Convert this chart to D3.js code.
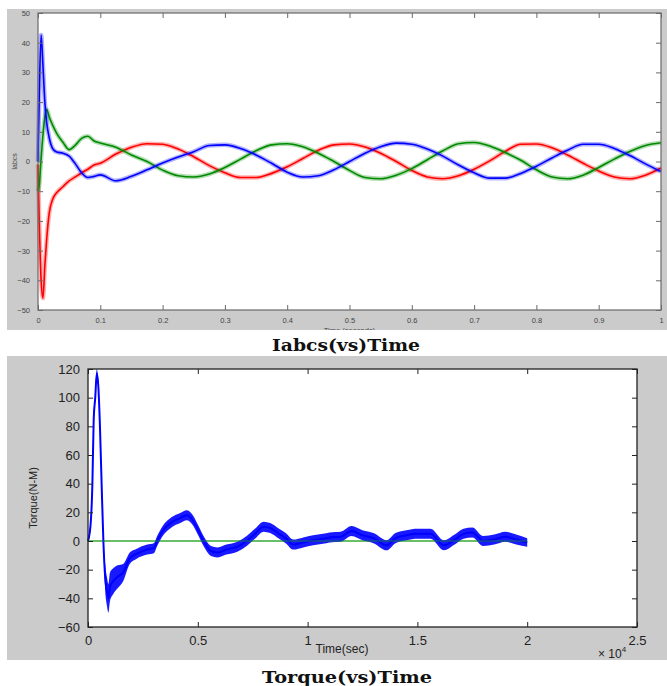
<!DOCTYPE html>
<html><head><meta charset="utf-8">
<script src="https://cdn.jsdelivr.net/npm/d3@7/dist/d3.min.js"></script>
<style>body{margin:0;background:#fff}svg{display:block}</style>
</head><body><svg id="c" width="667" height="686"></svg>
<script>
// ---------- Top chart data: Iabcs vs time (s) ----------
const tTop = [0,0.002,0.005,0.008,0.011,0.014,0.018,0.024,0.03,0.04,0.05,0.06,0.07,0.08,0.09,
  0.1,0.125,0.15,0.175,0.2,0.225,0.25,0.275,0.3,0.325,0.35,0.375,0.4,0.425,0.45,0.475,0.5,0.525,0.55,0.575,
  0.6,0.625,0.65,0.675,0.7,0.725,0.75,0.775,0.8,0.825,0.85,0.875,0.9,0.925,0.95,0.975,1.0];
const ia = [-1,-20,-40,-46,-35,-26,-17.4,-12.5,-10.5,-8.5,-6.5,-5.2,-3.8,-2.6,-1.2,
  -0.6,2.5,4.8,6.0,5.8,4.2,1.6,-1.4,-3.8,-5.4,-5.4,-4.0,-1.8,1.0,3.8,5.6,5.9,4.9,2.8,0.0,
  -3.0,-5.2,-5.8,-4.8,-2.6,0.2,3.4,5.8,5.9,4.6,2.2,-0.6,-3.2,-5.2,-5.8,-4.6,-2.2];
const ib = [-10,-8,1,9,15,17.5,15,12,9.5,6.5,4.0,5.5,7.8,8.5,6.9,
  6.2,4.8,2.2,0.0,-2.9,-4.8,-5.2,-4.2,-2.0,0.8,3.6,5.6,6.0,5.0,2.8,0.0,-3.0,-5.4,-5.8,-4.6,
  -2.4,0.6,3.6,6.0,6.4,5.2,3.0,0.4,-2.8,-5.2,-5.8,-4.6,-2.0,0.8,3.4,5.4,6.3];
const ic = [0,22,42.6,32,20,13,8,4.2,3.2,2.8,1.8,-0.8,-3.8,-5.4,-5.0,
  -4.5,-6.5,-5.0,-2.8,-0.5,1.5,3.3,5.4,5.6,4.4,2.2,-0.6,-3.6,-5.2,-4.8,-2.8,0.0,2.8,5.0,6.2,
  5.8,4.2,1.8,-1.2,-3.8,-5.6,-5.6,-4.0,-1.6,1.2,3.8,5.8,5.8,4.4,2.0,-0.8,-3.4];
const topXTicks = [0,0.1,0.2,0.3,0.4,0.5,0.6,0.7,0.8,0.9,1];
const topYTicks = [-50,-40,-30,-20,-10,0,10,20,30,40,50];

// ---------- Bottom chart data: Torque vs samples ----------
const tqX = [0,120,200,260,330,400,470,540,620,700,780,860,930,1000,1150,1350,1600,1900,2200,2700,3000,3150,
  3400,3800,4200,4500,4750,5000,5300,5600,5900,6300,6800,7227,7600,8000,8300,8700,9000,9350,9800,10250,
  10700,11000,11500,12000,12500,13000,13600,14000,14500,15000,15600,16200,16700,17100,17500,18000,18500,19000,19500,20000];
const tqV = [0,12,40,85,100,117,108,82,40,0,-25,-35,-40,-32,-28,-25,-22,-12,-9,-6,-5,0,
  7,13,16,18,15,8,-1,-7,-8,-6,-4,0,5,10,9,5,2,-2.5,-1,0.5,
  1.5,2.5,3,7,4,2,-3,2,4,5,5,-3,1,5,6,0,1,3,1,-1];
const tqNoise = [1,3,3,3,3,3,3,3,3,3,9,10,10,10,9,8,6,4,3.5,3.5,3.5,3.5,
  3.5,3.5,3.5,3.5,3.5,3.5,3.5,3.5,3.5,3.5,3.5,3.5,3.5,3.5,3.5,3.5,3.5,3.5,3.5,3.5,
  3.5,3.5,3.5,3.5,3.5,3.5,3.5,3.5,3.5,3.5,3.5,3.5,3.5,3.5,3.5,3.5,3.5,3.5,3.5,3];
const botXTicks = [0,5000,10000,15000,20000,25000];
const botXLabels = ["0","0.5","1","1.5","2","2.5"];
const botYTicks = [-60,-40,-20,0,20,40,60,80,100,120];

const svg = d3.select("#c");

// ================= TOP =================
const T = {px0:7, py0:9, px1:667, py1:330, L:38, R:661, Tp:13, B:310};
svg.append("defs").append("clipPath").attr("id","topclip")
  .append("rect").attr("x",T.px0).attr("y",T.py0).attr("width",T.px1-T.px0).attr("height",T.py1-T.py0);
const gT = svg.append("g").attr("clip-path","url(#topclip)");
gT.append("rect").attr("x",T.px0).attr("y",T.py0).attr("width",T.px1-T.px0).attr("height",T.py1-T.py0).attr("fill","#cbcbcb");
gT.append("rect").attr("x",T.L).attr("y",T.Tp).attr("width",T.R-T.L).attr("height",T.B-T.Tp).attr("fill","#fff");
const xT = d3.scaleLinear().domain([0,1]).range([T.L,T.R]);
const yT = d3.scaleLinear().domain([-50,50]).range([T.B,T.Tp]);

const lineT = d3.line().x((d,i)=>xT(tTop[i])).y(d=>yT(d)).curve(d3.curveMonotoneX);
const seriesT = [[ia,"#ff0000"],[ib,"#008a00"],[ic,"#0000ff"]];
seriesT.forEach(([arr,col])=>{
  gT.append("path").attr("d",lineT(arr)).attr("fill","none").attr("stroke",col).attr("stroke-width",4.5).attr("stroke-opacity",0.3).attr("stroke-linejoin","round");
  gT.append("path").attr("d",lineT(arr)).attr("fill","none").attr("stroke",col).attr("stroke-width",1.6).attr("stroke-linejoin","round");
});

const axCol = "#6a6a6a";
const axT = gT.append("g").attr("font-family","Liberation Sans, Arial, sans-serif").attr("font-size",7.5).attr("fill","#444");
gT.append("rect").attr("x",T.L).attr("y",T.Tp).attr("width",T.R-T.L).attr("height",T.B-T.Tp).attr("fill","none").attr("stroke",axCol).attr("stroke-width",1.2);
const gxb = gT.append("g").attr("transform",`translate(0,${T.B})`).call(d3.axisBottom(xT).tickValues(topXTicks).tickSize(-5).tickPadding(8).tickFormat(d3.format("~g")));
const gxt = gT.append("g").attr("transform",`translate(0,${T.Tp})`).call(d3.axisTop(xT).tickValues(topXTicks).tickSize(-5).tickFormat(""));
const gyl = gT.append("g").attr("transform",`translate(${T.L},0)`).call(d3.axisLeft(yT).tickValues(topYTicks).tickSize(-5).tickPadding(8));
const gyr = gT.append("g").attr("transform",`translate(${T.R},0)`).call(d3.axisRight(yT).tickValues(topYTicks).tickSize(-5).tickFormat(""));
[gxb,gxt,gyl,gyr].forEach(g=>{
  g.select(".domain").remove();
  g.selectAll("line").attr("stroke",axCol);
  g.selectAll("text").attr("font-family","Liberation Sans, Arial, sans-serif").attr("font-size",7.5).attr("fill","#444");
});
gT.append("text").attr("transform",`translate(17,${(T.Tp+T.B)/2}) rotate(-90)`).attr("text-anchor","middle")
  .attr("font-family","Liberation Sans, Arial, sans-serif").attr("font-size",7).attr("fill","#444").text("Iabcs");
gT.append("text").attr("x",(T.L+T.R)/2).attr("y",333).attr("text-anchor","middle")
  .attr("font-family","Liberation Sans, Arial, sans-serif").attr("font-size",7.5).attr("fill","#444").text("Time (seconds)");

svg.append("text").attr("x",346).attr("y",351).attr("text-anchor","middle")
  .attr("font-family","DejaVu Serif, serif").attr("font-weight","bold").attr("font-size",17).attr("fill","#111")
  .attr("textLength",148).attr("lengthAdjust","spacingAndGlyphs").text("Iabcs(vs)Time");

// ================= BOTTOM =================
const Bc = {px0:7, py0:356, px1:667, py1:660, L:88, R:637, Tp:369, B:627};
svg.append("rect").attr("x",Bc.px0).attr("y",Bc.py0).attr("width",Bc.px1-Bc.px0).attr("height",Bc.py1-Bc.py0).attr("fill","#cbcbcb");
svg.append("rect").attr("x",Bc.L).attr("y",Bc.Tp).attr("width",Bc.R-Bc.L).attr("height",Bc.B-Bc.Tp).attr("fill","#fff");
const xB = d3.scaleLinear().domain([0,25000]).range([Bc.L,Bc.R]);
const yB = d3.scaleLinear().domain([-60,120]).range([Bc.B,Bc.Tp]);

svg.append("line").attr("x1",xB(0)).attr("x2",xB(20000)).attr("y1",yB(0)).attr("y2",yB(0)).attr("stroke","#22a022").attr("stroke-width",1.2);
const areaB = d3.area().x((d,i)=>xB(tqX[i])).y0((d,i)=>yB(d-tqNoise[i])).y1((d,i)=>yB(d+tqNoise[i])).curve(d3.curveMonotoneX);
const lineB = d3.line().x((d,i)=>xB(tqX[i])).y(d=>yB(d)).curve(d3.curveMonotoneX);
svg.append("path").attr("d",areaB(tqV)).attr("fill","#0000ff").attr("fill-opacity",0.9);
svg.append("path").attr("d",lineB(tqV)).attr("fill","none").attr("stroke","#0000ff").attr("stroke-width",2);
svg.append("line").attr("x1",xB(0)).attr("x2",xB(20000)).attr("y1",yB(0)).attr("y2",yB(0)).attr("stroke","#22a022").attr("stroke-width",1).attr("stroke-opacity",0.7);

svg.append("rect").attr("x",Bc.L).attr("y",Bc.Tp).attr("width",Bc.R-Bc.L).attr("height",Bc.B-Bc.Tp).attr("fill","none").attr("stroke","#222").attr("stroke-width",1.3);
const bxb = svg.append("g").attr("transform",`translate(0,${Bc.B})`).call(d3.axisBottom(xB).tickValues(botXTicks).tickSize(-5).tickPadding(9).tickFormat((d,i)=>botXLabels[i]));
const bxt = svg.append("g").attr("transform",`translate(0,${Bc.Tp})`).call(d3.axisTop(xB).tickValues(botXTicks).tickSize(-5).tickFormat(""));
const byl = svg.append("g").attr("transform",`translate(${Bc.L},0)`).call(d3.axisLeft(yB).tickValues(botYTicks).tickSize(-5).tickPadding(8));
const byr = svg.append("g").attr("transform",`translate(${Bc.R},0)`).call(d3.axisRight(yB).tickValues(botYTicks).tickSize(-5).tickFormat(""));
[bxb,bxt,byl,byr].forEach(g=>{
  g.select(".domain").remove();
  g.selectAll("line").attr("stroke","#222");
  g.selectAll("text").attr("font-family","Liberation Sans, Arial, sans-serif").attr("font-size",13).attr("fill","#222");
});
svg.append("text").attr("transform",`translate(37,${(Bc.Tp+Bc.B)/2}) rotate(-90)`).attr("text-anchor","middle")
  .attr("font-family","Liberation Sans, Arial, sans-serif").attr("font-size",11).attr("fill","#222").text("Torque(N-M)");
svg.append("text").attr("x",342).attr("y",653).attr("text-anchor","middle")
  .attr("font-family","Liberation Sans, Arial, sans-serif").attr("font-size",12).attr("fill","#222").text("Time(sec)");
const xt = svg.append("text").attr("x",598).attr("y",658)
  .attr("font-family","Liberation Sans, Arial, sans-serif").attr("font-size",12).attr("fill","#222");
xt.append("tspan").text("× 10");
xt.append("tspan").attr("dy",-6).attr("font-size",8).text("4");

svg.append("text").attr("x",347).attr("y",683).attr("text-anchor","middle")
  .attr("font-family","DejaVu Serif, serif").attr("font-weight","bold").attr("font-size",17).attr("fill","#111")
  .attr("textLength",170).attr("lengthAdjust","spacingAndGlyphs").text("Torque(vs)Time");
</script></body></html>
